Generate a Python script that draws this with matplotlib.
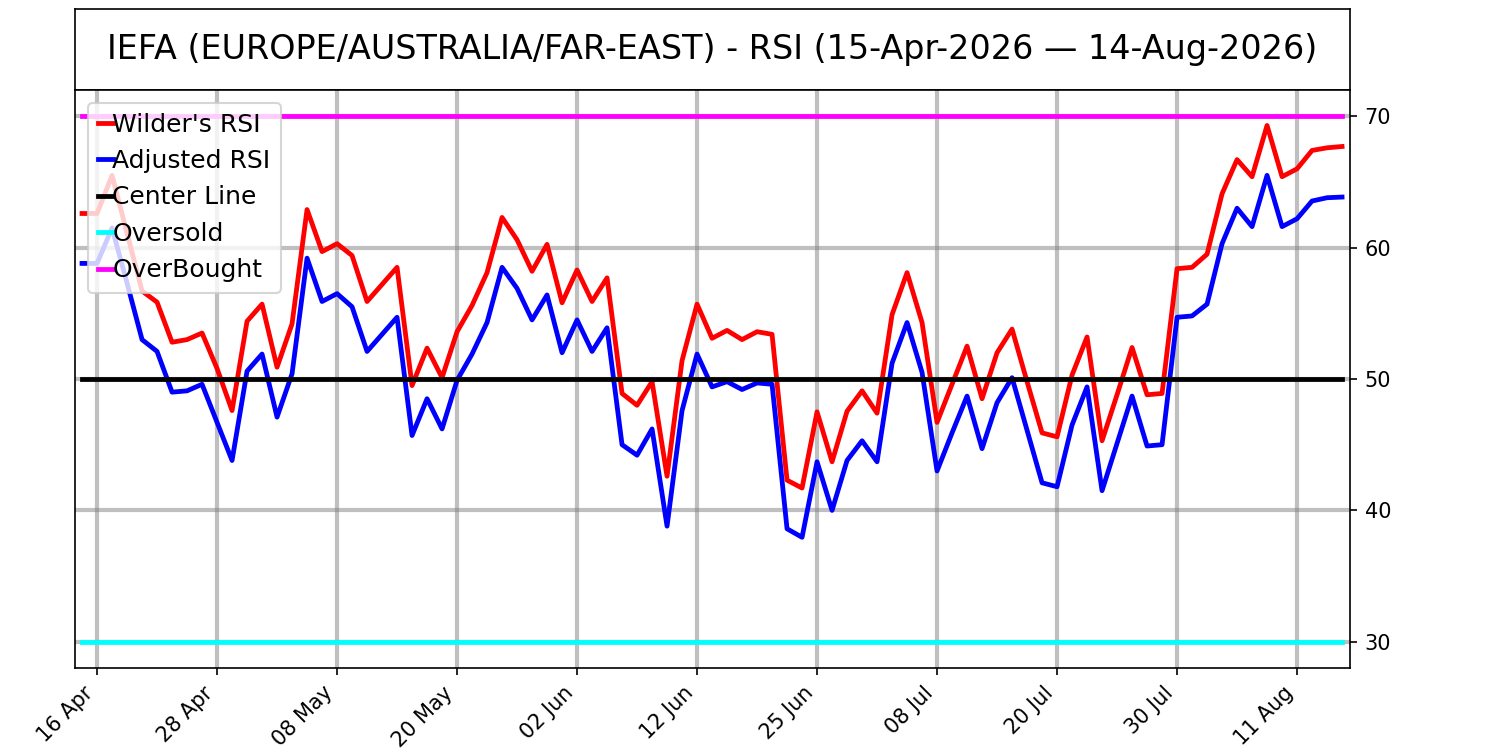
import matplotlib.pyplot as plt
import numpy as np
import pandas as pd

# trading days (NYSE holidays removed)
holidays = ["2026-05-25", "2026-06-19", "2026-07-03"]
dates = pd.bdate_range("2026-04-15", "2026-08-14", freq="C", holidays=holidays)

wilder_rsi = [
    62.6, 62.6, 65.5, 61.1, 56.7, 55.85, 52.8, 53.0, 53.5, 50.8,
    47.6, 54.4, 55.7, 50.9, 54.2, 62.9, 59.7, 60.3, 59.4, 55.9,
    57.2, 58.5, 49.5, 52.35, 50.1, 53.6, 55.6, 58.1, 62.3, 60.6,
    58.2, 60.25, 55.8, 58.3, 55.9, 57.7, 48.9, 48.0, 49.8, 42.6,
    51.4, 55.7, 53.1, 53.7, 53.0, 53.6, 53.4, 42.3, 41.7, 47.5,
    43.7, 47.55, 49.1, 47.4, 54.9, 58.1, 54.3, 46.7, 49.6, 52.5,
    48.5, 52.0, 53.8, 49.8, 45.9, 45.6, 50.3, 53.2, 45.3, 48.8,
    52.4, 48.8, 48.9, 58.4, 58.5, 59.5, 64.1, 66.7, 65.4, 69.3,
    65.4, 66.0, 67.4, 67.6, 67.7,
]
adjusted_rsi = [
    58.8, 58.8, 61.5, 57.3, 53.0, 52.1, 49.0, 49.1, 49.6, 46.7,
    43.8, 50.6, 51.9, 47.1, 50.4, 59.2, 55.9, 56.5, 55.5, 52.1,
    53.4, 54.7, 45.7, 48.5, 46.2, 49.9, 51.9, 54.3, 58.5, 56.9,
    54.5, 56.4, 52.0, 54.5, 52.1, 53.9, 45.0, 44.2, 46.2, 38.8,
    47.6, 51.9, 49.4, 49.8, 49.2, 49.7, 49.6, 38.6, 37.95, 43.7,
    40.0, 43.8, 45.3, 43.7, 51.2, 54.3, 50.5, 43.0, 45.9, 48.7,
    44.7, 48.2, 50.1, 46.1, 42.1, 41.8, 46.5, 49.4, 41.5, 45.1,
    48.7, 44.9, 45.0, 54.7, 54.8, 55.7, 60.3, 63.0, 61.6, 65.5,
    61.6, 62.2, 63.55, 63.8, 63.85,
]
center = 50
oversold = 30
overbought = 70

title = "IEFA (EUROPE/AUSTRALIA/FAR-EAST) - RSI (15-Apr-2026 \u2014 14-Aug-2026)"

x = np.arange(len(dates))
lw = 2.3

fig = plt.figure(figsize=(10, 5), dpi=150)
ax_t = fig.add_axes([0.05, 0.88, 0.85, 0.108])
ax_t.set_xticks([])
ax_t.set_yticks([])
ax_t.text(0.5, 0.5, title, ha="center", va="center", fontsize=16, transform=ax_t.transAxes)

ax = fig.add_axes([0.05, 0.1093, 0.85, 0.7707])
ax.plot(x, wilder_rsi, color="red", lw=lw, label="Wilder's RSI")
ax.plot(x, adjusted_rsi, color="blue", lw=lw, label="Adjusted RSI")
ax.plot(x, [center] * len(x), color="black", lw=lw, label="Center Line")
ax.plot(x, [oversold] * len(x), color="cyan", lw=lw, label="Oversold")
ax.plot(x, [overbought] * len(x), color="magenta", lw=lw, label="OverBought")

ticks = x[1::8]
ax.set_xticks(ticks)
ax.set_xticklabels([dates[i].strftime("%d %b") for i in ticks], rotation=45, ha="right")
ax.set_xlim(x[0] - 0.47, x[-1] + 0.53)
ax.set_ylim(28, 72)
ax.set_yticks([30, 40, 50, 60, 70])
ax.yaxis.tick_right()
ax.grid(True, color="gray", alpha=0.5, lw=2)
ax.legend(loc="upper left", fontsize=12, handlelength=0.6, handletextpad=0)

fig.savefig("out.png")
